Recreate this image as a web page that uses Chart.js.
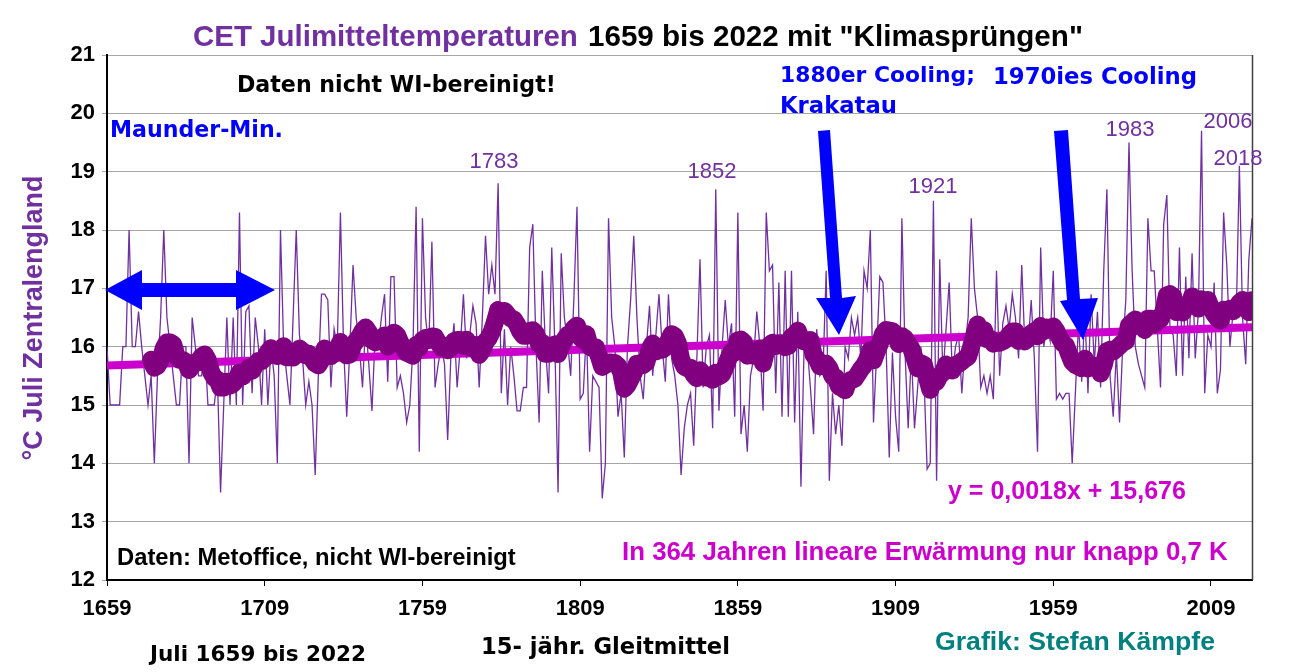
<!DOCTYPE html>
<html><head><meta charset="utf-8">
<script src="https://cdn.jsdelivr.net/npm/chart.js@4/dist/chart.umd.min.js"></script>
<style>html,body{margin:0;padding:0;background:#fff;}#wrap{width:1295px;height:672px;position:relative;}</style>
</head><body><div id="wrap"><canvas id="c" width="1295" height="672"></canvas></div>
<script>
const firstYear = 1659;
const temps1659to1699 = [
 16.0,15.0,15.0,15.0,15.0,16.0,16.0,18.0,16.0,16.0,
 16.6,16.0,15.5,15.0,15.5,14.0,15.5,16.5,18.0,16.5,
 16.0,15.5,15.0,15.0,16.0,16.0,14.0,16.5,16.0,15.5,
 15.5,16.0,15.0,15.0,15.0,15.5,13.5,15.0,16.5,15.0,
 16.5];
const temps1700s = [
 15.0,18.3,15.0,16.6,16.7,15.2,16.5,16.0,15.0,16.3,
 15.0,16.0,15.5,14.0,18.0,16.0,15.5,15.0,16.5,18.0,
 16.2,15.8,15.0,15.4,15.0,13.8,15.5,16.9,16.9,16.8,
 15.3,16.3,16.0,18.3,16.0,14.8,16.0,17.4,16.5,16.0,
 15.3,16.4,15.7,14.9,16.2,16.0,16.5,16.9,15.4,17.2,
 17.2,15.3,15.5,15.2,14.7,15.0,16.0,18.4,14.2,18.2,
 16.5,16.0,17.8,15.3,15.7,16.0,15.7,14.4,15.8,16.4,
 15.3,16.0,16.9,15.8,16.2,16.7,16.4,15.3,16.5,17.9,
 16.9,17.4,16.9,18.8,15.2,16.3,15.0,16.0,15.5,14.9,
 14.9,15.3,15.3,17.7,18.1,16.0,14.7,17.3,16.0,15.2];
const temps1800s = [
 17.7,16.0,13.5,17.6,16.5,16.1,15.5,16.8,18.4,15.1,
 15.2,16.3,14.2,15.5,15.4,15.3,13.4,14.0,18.2,16.5,
 16.0,14.8,15.2,14.1,16.0,16.8,17.9,16.5,15.5,15.1,
 16.0,16.7,15.5,16.2,16.9,16.0,15.4,16.9,15.8,15.5,
 15.0,13.8,14.6,15.0,15.2,14.3,15.8,17.5,15.3,16.0,
 16.2,14.6,18.7,14.9,16.0,16.8,16.0,16.4,14.8,18.3,
 14.5,15.0,14.2,15.5,15.8,16.6,16.0,14.9,18.3,17.3,
 17.4,15.2,17.1,14.8,17.3,14.8,17.3,14.7,16.6,13.6,
 16.0,16.0,15.3,14.5,16.3,15.5,15.6,17.3,13.7,15.2,
 14.5,15.0,14.3,16.0,15.8,16.5,16.2,16.5,15.8,17.3];
const temps1900s = [
 17.0,18.0,14.7,15.9,17.2,17.1,16.0,14.1,15.9,14.8,
 14.2,18.2,15.9,14.6,15.9,14.6,15.3,16.0,15.5,13.9,
 14.0,18.5,13.7,17.5,15.5,16.3,17.1,15.5,16.0,16.2,
 15.2,16.0,16.5,18.2,17.0,16.5,15.3,15.5,15.2,15.5,
 15.1,17.3,15.5,16.4,16.7,16.3,16.9,16.5,15.8,17.4,
 16.0,16.0,16.8,15.8,14.2,17.7,16.0,16.4,16.1,17.3,
 15.1,15.2,15.1,15.2,15.2,14.0,15.2,16.4,15.4,16.6,
 15.2,16.9,15.7,16.6,15.3,17.3,18.7,15.5,14.8,15.9,
 14.7,16.0,16.8,19.5,17.3,16.0,15.7,15.5,15.3,18.2,
 17.3,17.3,16.3,15.3,18.1,18.6,16.3,16.2,15.5,17.7];
const temps2000s = [
 15.5,17.2,15.8,17.6,15.8,16.6,19.7,15.2,16.2,16.0,
 17.1,15.2,15.6,18.3,17.4,16.0,16.6,16.5,19.1,16.5,
 15.7,17.5,18.2];
const julyTemps = [].concat(temps1659to1699, temps1700s, temps1800s, temps1900s, temps2000s);
const xTickYears = [1659,1709,1759,1809,1859,1909,1959,2009];
const yTickRange = [12, 21];
const maWindow = 15;
const trendSlope = 0.0018, trendIntercept = 15.676;

const rawPoints = julyTemps.map((v,i)=>({x:firstYear+i, y:v}));
const maPoints = [];
for (let i = maWindow-1; i < julyTemps.length; i++) {
  let s = 0; for (let k = i-maWindow+1; k <= i; k++) s += julyTemps[k];
  maPoints.push({x:firstYear+i, y:s/maWindow});
}
const n = julyTemps.length;
const trendPoints = [{x:firstYear, y:trendIntercept+trendSlope*1},{x:firstYear+n-1, y:trendIntercept+trendSlope*n}];

const FONT = 'Arial, "Liberation Sans", sans-serif';
const WIDE = '"DejaVu Sans", Verdana, sans-serif';
function fitText(ctx, text, x, yc, w, weight, color, align, fam) {
  const f = fam || FONT;
  ctx.save();
  ctx.font = weight + ' 100px ' + f;
  const m = ctx.measureText(text).width;
  const size = 100 * w / m;
  ctx.font = weight + ' ' + size.toFixed(2) + 'px ' + f;
  ctx.fillStyle = color; ctx.textBaseline = 'middle'; ctx.textAlign = align || 'left';
  ctx.fillText(text, x, yc);
  ctx.restore();
}
function poly(ctx, pts, color) {
  ctx.beginPath(); ctx.moveTo(pts[0][0], pts[0][1]);
  for (let i = 1; i < pts.length; i++) ctx.lineTo(pts[i][0], pts[i][1]);
  ctx.closePath(); ctx.fillStyle = color; ctx.fill();
}
const deco = {
  id: 'deco',
  beforeDraw(chart) {
    const c = chart.ctx; c.save(); c.fillStyle = '#fff'; c.fillRect(0,0,chart.width,chart.height); c.restore();
  },
  afterDraw(chart) {
    const ctx = chart.ctx, a = chart.chartArea;
    ctx.save(); ctx.strokeStyle = '#404040'; ctx.lineWidth = 1.5;
    ctx.beginPath(); ctx.moveTo(a.right+0.5, a.top); ctx.lineTo(a.right+0.5, a.bottom); ctx.stroke(); ctx.restore();
    const PUR = '#7030A0', BLUE = '#0000FF', MAG = '#CC00CC';
    fitText(ctx, 'CET Julimitteltemperaturen', 193, 38, 385, 'bold', PUR);
    fitText(ctx, '1659 bis 2022 mit "Klimasprüngen"', 588, 38, 495, 'bold', '#000');
    ctx.save(); ctx.translate(35, 318); ctx.rotate(-Math.PI/2);
    fitText(ctx, '°C Juli Zentralengland', 0, 0, 285, 'bold', PUR, 'center');
    ctx.restore();
    fitText(ctx, 'Daten nicht WI-bereinigt!', 237, 86, 319, 'bold', '#000', 'left', WIDE);
    fitText(ctx, 'Maunder-Min.', 110, 131, 173, 'bold', BLUE, 'left', WIDE);
    fitText(ctx, '1880er Cooling;', 780, 76, 195, 'bold', BLUE, 'left', WIDE);
    fitText(ctx, 'Krakatau', 780, 107, 117, 'bold', BLUE, 'left', WIDE);
    fitText(ctx, '1970ies Cooling', 993, 78, 204, 'bold', BLUE, 'left', WIDE);
    fitText(ctx, 'y = 0,0018x + 15,676', 948, 492, 238, 'bold', MAG);
    fitText(ctx, 'Daten: Metoffice, nicht WI-bereinigt', 117, 558, 399, 'bold', '#000');
    fitText(ctx, 'In 364 Jahren lineare Erwärmung nur knapp 0,7 K', 622, 553, 606, 'bold', MAG);
    fitText(ctx, 'Juli 1659 bis 2022', 150, 655, 216, 'bold', '#000', 'left', WIDE);
    fitText(ctx, '15- jähr. Gleitmittel', 481, 648, 249, 'bold', '#000', 'left', WIDE);
    fitText(ctx, 'Grafik: Stefan Kämpfe', 935, 643, 280, 'bold', '#00807F');
    const lbl = [['1783',494,162],['1852',712,172],['1921',933,187],['1983',1130,130],['2006',1228,122],['2018',1238,159]];
    lbl.forEach(l => fitText(ctx, l[0], l[1], l[2], 49, 'normal', PUR, 'center'));
    poly(ctx, [[105,290],[142,270],[142,283],[236,283],[236,270],[275,290],[236,310],[236,297],[142,297],[142,310]], BLUE);
    poly(ctx, [[818,131],[830,130],[842,298],[856,296],[839,335],[816,298],[830,298]], BLUE);
    poly(ctx, [[1054,131],[1068,130],[1080,299],[1098,298],[1083,340],[1060,301],[1067,300]], BLUE);
  }
};

new Chart(document.getElementById('c'), {
  type: 'line',
  data: { datasets: [
    { label:'Gleitmittel', data: maPoints, borderColor:'#800080', borderWidth:18, pointRadius:0, tension:0,
      borderJoinStyle:'round', borderCapStyle:'round', order:0 },
    { label:'Trend', data: trendPoints, borderColor:'#CC00CC', borderWidth:8, pointRadius:0, order:1 },
    { label:'CET Juli', data: rawPoints, borderColor:'#7030A0', borderWidth:1.3, pointRadius:0, tension:0, order:2 }
  ]},
  options: {
    responsive:false, animation:false, devicePixelRatio:1,
    layout:{ padding:{ left:0, right:43, top:55, bottom:0 } },
    plugins:{ legend:{display:false}, tooltip:{enabled:false}, title:{display:false} },
    scales:{
      x:{ type:'linear', min:firstYear, max:firstYear+n-1,
          afterBuildTicks(s){ s.ticks = xTickYears.map(v=>({value:v})); },
          afterFit(s){ s.height = 92; },
          ticks:{ autoSkip:false, maxRotation:0, color:'#000', font:{family:FONT, size:22, weight:'bold'}, padding:10,
                  callback:v=>String(v) },
          grid:{ drawOnChartArea:false, tickLength:6, color:'#000' },
          border:{ display:true, color:'#000', width:2 } },
      y:{ min:yTickRange[0], max:yTickRange[1],
          afterFit(s){ s.width = 107; },
          ticks:{ stepSize:1, color:'#000', font:{family:FONT, size:22, weight:'bold'}, padding:7 },
          grid:{ color:'#a6a6a6', lineWidth:1, tickLength:5 },
          border:{ display:true, color:'#000', width:2 } }
    }
  },
  plugins:[deco]
});
</script></body></html>
